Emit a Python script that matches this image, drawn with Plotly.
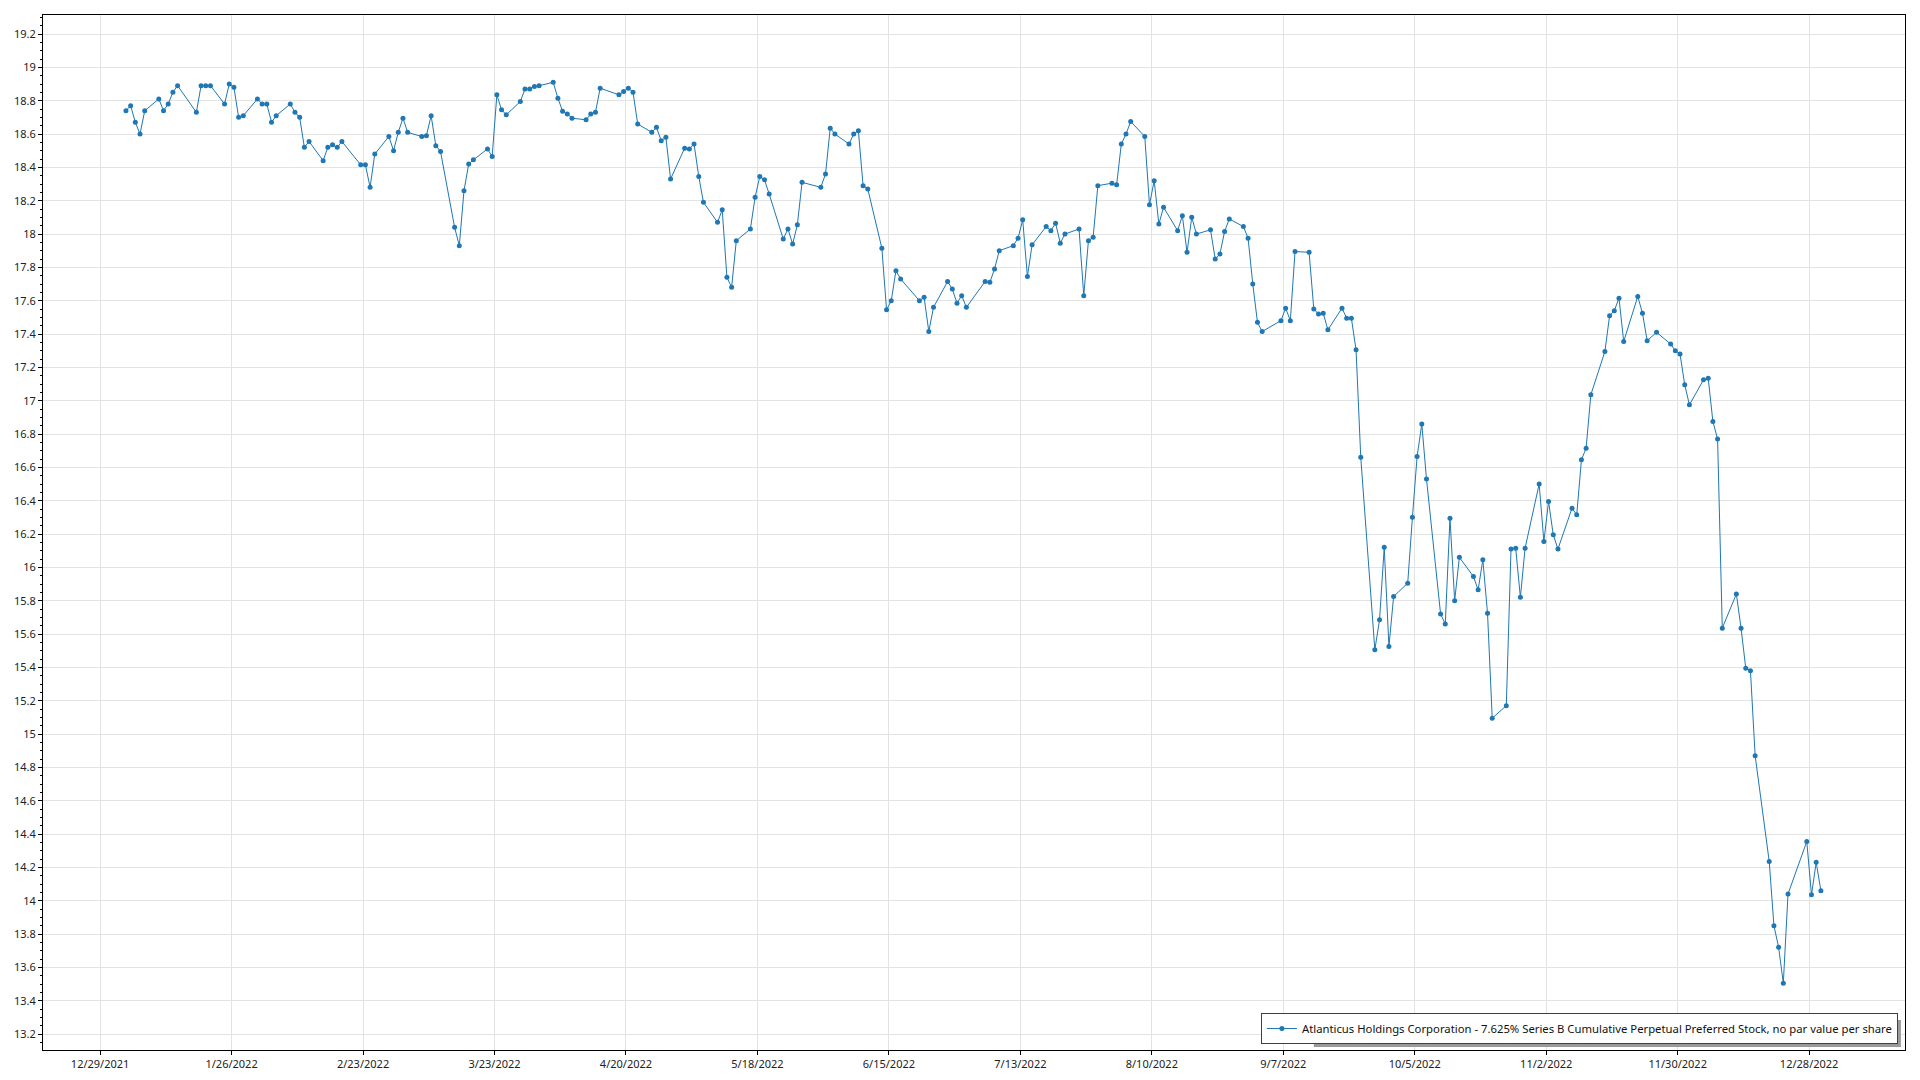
import pandas as pd
import plotly.graph_objects as go

SERIES_NAME = ("Atlanticus Holdings Corporation - 7.625% Series B Cumulative "
               "Perpetual Preferred Stock, no par value per share")

# NYSE holidays in 2022 (non-trading weekdays)
HOLIDAYS = ["2022-01-17", "2022-02-21", "2022-04-15", "2022-05-30", "2022-06-20",
            "2022-07-04", "2022-09-05", "2022-11-24", "2022-12-26"]

# Daily closing prices per month (one value per trading day)
JAN = [18.74, 18.77, 18.67, 18.60, 18.74, 18.81, 18.74, 18.78, 18.85, 18.89,
       18.73, 18.89, 18.89, 18.89, 18.78, 18.90, 18.88, 18.70, 18.71, 18.81]
FEB = [18.78, 18.78, 18.67, 18.71, 18.78, 18.73, 18.70, 18.52, 18.555, 18.44,
       18.52, 18.535, 18.52, 18.555, 18.415, 18.415, 18.28, 18.48, 18.585]
MAR = [18.50, 18.61, 18.695, 18.61, 18.585, 18.59, 18.71, 18.53, 18.495, 18.04,
       17.93, 18.26, 18.42, 18.445, 18.51, 18.465, 18.835, 18.745, 18.715, 18.795,
       18.87, 18.87, 18.885]
APR = [18.89, 18.91, 18.815, 18.737, 18.72, 18.695, 18.685, 18.72, 18.73, 18.875,
       18.835, 18.855, 18.875, 18.85, 18.66, 18.61, 18.64, 18.56, 18.58, 18.33]
MAY = [18.515, 18.51, 18.54, 18.345, 18.19, 18.07, 18.145, 17.74, 17.68, 17.96,
       18.03, 18.22, 18.345, 18.325, 18.24, 17.97, 18.03, 17.94, 18.055, 18.31,
       18.28]
JUN = [18.36, 18.635, 18.60, 18.54, 18.60, 18.62, 18.29, 18.27, 17.915, 17.545,
       17.60, 17.78, 17.73, 17.60, 17.62, 17.415, 17.56, 17.715, 17.67, 17.585,
       17.63]
JUL = [17.56, 17.715, 17.71, 17.79, 17.90, 17.93, 17.975, 18.085, 17.745, 17.935,
       18.045, 18.02, 18.065, 17.945, 18.00, 18.03, 17.63, 17.96, 17.98, 18.29]
AUG = [18.305, 18.295, 18.54, 18.60, 18.675, 18.585, 18.175, 18.32, 18.06, 18.16,
       18.02, 18.11, 17.89, 18.10, 18.00, 18.025, 17.85, 17.88, 18.015, 18.09,
       18.045, 17.975, 17.70]
SEP = [17.47, 17.415, 17.48, 17.555, 17.48, 17.895, 17.89, 17.55, 17.52, 17.525,
       17.425, 17.555, 17.495, 17.495, 17.305, 16.66, 15.505, 15.685, 16.12, 15.525,
       15.825]
OCT = [15.905, 16.30, 16.665, 16.86, 16.53, 15.72, 15.66, 16.295, 15.80, 16.06,
       15.945, 15.865, 16.045, 15.725, 15.095, 15.17, 16.11, 16.115, 15.82, 16.115,
       16.50]
NOV = [16.155, 16.395, 16.195, 16.11, 16.355, 16.315, 16.645, 16.715, 17.035, 17.295,
       17.51, 17.54, 17.615, 17.355, 17.625, 17.525, 17.36, 17.41, 17.34, 17.30,
       17.28]
DEC = [17.095, 16.975, 17.125, 17.135, 16.875, 16.77, 15.635, 15.84, 15.635, 15.395,
       15.38, 14.87, 14.235, 13.85, 13.72, 13.505, 14.04, 14.355, 14.035, 14.23,
       14.06]

prices = JAN + FEB + MAR + APR + MAY + JUN + JUL + AUG + SEP + OCT + NOV + DEC
dates = pd.bdate_range("2022-01-03", "2022-12-30", freq="C", holidays=HOLIDAYS)
dates = dates + pd.Timedelta(hours=12)
assert len(dates) == len(prices)

FONT = "Noto Sans, Open Sans, sans-serif"
BLUE = "#1f77b4"

fig = go.Figure()
fig.add_trace(go.Scatter(
    x=dates, y=prices, mode="lines+markers", name=SERIES_NAME,
    line=dict(color=BLUE, width=1),
    marker=dict(color=BLUE, size=5),
    showlegend=True,
))

# soft drop shadow behind the legend box (legend is drawn on top of shapes)
fig.add_shape(type="rect", xref="paper", yref="paper",
              x0=0.6825, x1=0.9978, y0=0.0029, y1=0.0290,
              line=dict(width=0), fillcolor="#9a9a9a", layer="above")

fig.update_layout(
    width=1904, height=1064,
    autosize=False,
    margin=dict(l=35, r=7, t=7, b=22, autoexpand=False),
    paper_bgcolor="white",
    plot_bgcolor="white",
    font=dict(family=FONT, size=11, color="#222222"),
    showlegend=True,
    legend=dict(
        x=0.9962, y=0.0058, xanchor="right", yanchor="bottom",
        bgcolor="white", bordercolor="#404040", borderwidth=1,
        font=dict(family=FONT, size=11.3, color="#111111"),
        itemwidth=30, tracegroupgap=0,
    ),
    xaxis=dict(
        type="date", automargin=False,
        range=["2021-12-16 20:00", "2023-01-17 10:00"],
        tick0="2021-12-29", dtick=28 * 24 * 3600 * 1000,
        tickformat="%-m/%-d/%Y",
        showgrid=True, gridcolor="#e3e3e3", gridwidth=1,
        showline=True, linecolor="black", linewidth=1, mirror=True,
        ticks="outside", ticklen=4, tickcolor="black",
        zeroline=False,
        tickfont=dict(family=FONT, size=11, color="#222222"),
    ),
    yaxis=dict(
        automargin=False,
        range=[13.104, 19.314],
        tick0=13.2, dtick=0.2,
        showgrid=True, gridcolor="#e3e3e3", gridwidth=1,
        showline=True, linecolor="black", linewidth=1, mirror=True,
        ticks="outside", ticklen=4, tickcolor="black",
        minor=dict(dtick=0.05, ticks="outside", ticklen=2, tickcolor="black",
                   showgrid=False),
        zeroline=False,
        tickfont=dict(family=FONT, size=11, color="#222222"),
    ),
)

fig.write_html("out.html")
